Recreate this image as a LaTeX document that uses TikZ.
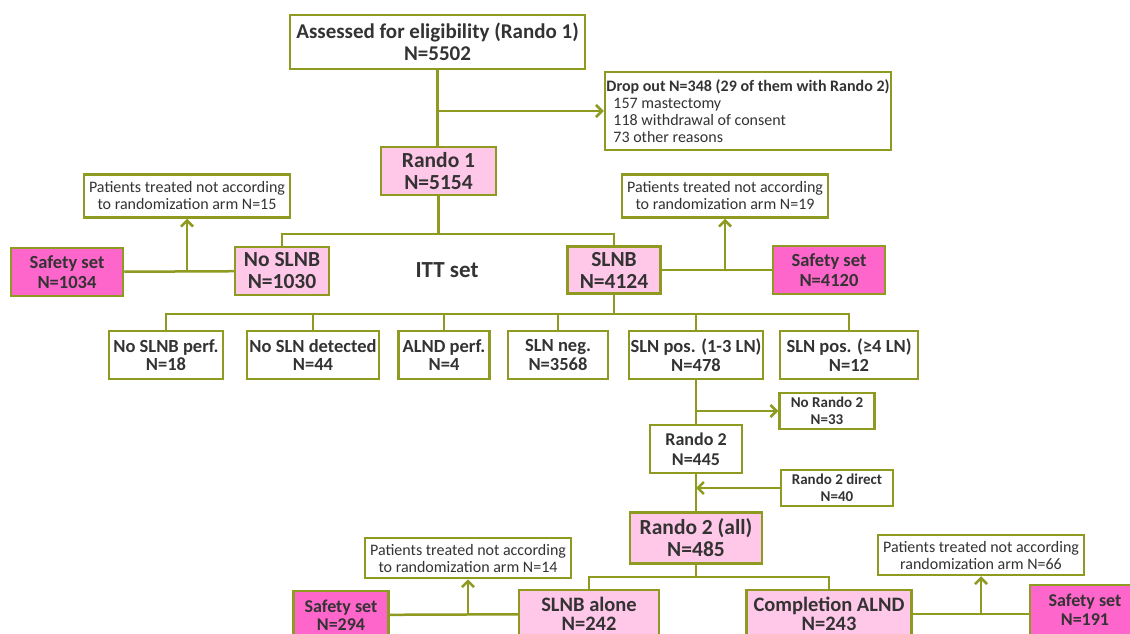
\documentclass[tikz,border=0pt]{standalone}
\usepackage{fontspec}
\setmainfont{Carlito}
\usetikzlibrary{arrows.meta, positioning, calc}
\definecolor{olivebox}{RGB}{142,155,32}
\definecolor{lightpink}{RGB}{255,199,232}
\definecolor{hotpink}{RGB}{255,102,204}
\definecolor{inkgrey}{RGB}{51,51,51}
\tikzset{
  box/.style={rectangle, draw=olivebox, line width=2.5pt, fill=white, inner sep=0pt,
              align=center, text=inkgrey, font=\bfseries\fontsize{21.5}{22}\selectfont},
  armbox/.style={box, fill=lightpink},
  safebox/.style={box, fill=hotpink, font=\bfseries\fontsize{18.5}{20}\selectfont},
  notebox/.style={box, font=\fontsize{16}{17}\selectfont},
  rowbox/.style={box, minimum height=48pt, font=\bfseries\fontsize{18.5}{18.5}\selectfont},
  smallbox/.style={box, font=\bfseries\fontsize{15}{17}\selectfont},
  link/.style={draw=olivebox, line width=2.5pt},
  arrow/.style={link, -{Straight Barb[length=6pt,width=12pt]}}
}

\begin{document}
\begin{tikzpicture}[x=1pt, y=-1pt]
    \useasboundingbox[fill=white] (0,0) rectangle (1130,634);

    % Rando 1
    \node[box, minimum width=295pt, minimum height=54pt, font=\bfseries\fontsize{21}{22}\selectfont]
        (assessed) at (437.5,42) {Assessed for eligibility (Rando 1)\\N=5502};
    \node[box, minimum width=286pt, minimum height=78pt, align=left,
          font=\fontsize{16}{17}\selectfont] (dropout) at (748,111)
        {\textbf{Drop out N=348 (29 of them with Rando 2)}\\
         \hspace*{7pt}157 mastectomy\\
         \hspace*{7pt}118 withdrawal of consent\\
         \hspace*{7pt}73 other reasons};
    \node[armbox, minimum width=115pt, minimum height=48pt] (rando1) at (438.5,171)
        {Rando 1\\N=5154};

    \node[notebox, minimum width=206pt, minimum height=43pt] (note15) at (187,196)
        {Patients treated not according\\to randomization arm N=15};
    \node[safebox, minimum width=112pt, minimum height=48pt] (safe1034) at (67,272)
        {Safety set\\N=1034};
    \node[armbox, minimum width=94pt, minimum height=48pt] (noslnb) at (282,271)
        {No SLNB\\N=1030};
    \node[text=inkgrey, font=\bfseries\fontsize{23}{23}\selectfont] (itt) at (447,270) {ITT set};
    \node[armbox, minimum width=93pt, minimum height=47pt] (slnb) at (614,270)
        {SLNB\\N=4124};
    \node[notebox, minimum width=206pt, minimum height=43pt] (note19) at (725,196)
        {Patients treated not according\\to randomization arm N=19};
    \node[safebox, minimum width=112pt, minimum height=48pt] (safe4120) at (829,270)
        {Safety set\\N=4120};

    % SLNB outcomes
    \node[rowbox, minimum width=114pt] (noperf) at (166,355) {No SLNB perf.\\N=18};
    \node[rowbox, minimum width=132pt] (nodetect) at (313,355) {No SLN detected\\N=44};
    \node[rowbox, minimum width=91pt] (alnd) at (444,355) {ALND perf.\\N=4};
    \node[rowbox, minimum width=100pt] (slnneg) at (558,355) {SLN neg.\\N=3568};
    \node[rowbox, minimum width=134pt] (slnpos13) at (696,355) {SLN pos. (1-3 LN)\\N=478};
    \node[rowbox, minimum width=138pt] (slnpos4) at (849,355) {SLN pos. (≥4 LN)\\N=12};

    % Rando 2
    \node[smallbox, minimum width=95pt, minimum height=36pt] (norando2) at (827,411)
        {No Rando 2\\N=33};
    \node[box, minimum width=92pt, minimum height=48pt, font=\bfseries\fontsize{18}{20}\selectfont]
        (rando2) at (696,449) {Rando 2\\N=445};
    \node[smallbox, minimum width=112pt, minimum height=36pt] (rando2direct) at (837,488)
        {Rando 2 direct\\N=40};
    \node[armbox, minimum width=132pt, minimum height=51pt] (rando2all) at (696,538)
        {Rando 2 (all)\\N=485};

    \node[notebox, minimum width=206pt, minimum height=40pt] (note14) at (468,558)
        {Patients treated not according\\to randomization arm N=14};
    \node[safebox, minimum width=95pt, minimum height=48pt, font=\bfseries\fontsize{18}{18}\selectfont]
        (safe294) at (341,615) {Safety set\\N=294};
    \node[armbox, minimum width=140pt, minimum height=48pt, font=\bfseries\fontsize{20.5}{18.5}\selectfont]
        (slnbalone) at (589,614) {SLNB alone\\N=242};
    \node[armbox, minimum width=165pt, minimum height=48pt, font=\bfseries\fontsize{20.5}{18.5}\selectfont]
        (complalnd) at (829,614) {Completion ALND\\N=243};
    \node[notebox, minimum width=206pt, minimum height=40pt] (note66) at (981,555)
        {Patients treated not according\\randomization arm N=66};
    \node[safebox, minimum width=110pt, minimum height=50pt, font=\bfseries\fontsize{18}{19}\selectfont]
        (safe191) at (1085,610) {Safety set\\N=191};

    \coordinate (split1) at (438.5,234);
    \coordinate (split2) at (614,314);
    \coordinate (split3) at (696,577);

    \draw[link] (assessed.south) -- (assessed.south |- rando1.north);
    \draw[arrow] (assessed.south |- dropout.west) -- (dropout.west);
    \draw[link] (rando1) -- (split1);
    \draw[link] (noslnb.north) |- (split1) -| (slnb.north);
    \draw[link] (safe1034) -- (noslnb);
    \draw[arrow] (safe1034.east -| note15.south) -- (note15.south);
    \draw[link] (slnb) -- (safe4120);
    \draw[arrow] (slnb.east -| note19.south) -- (note19.south);

    \draw[link] (slnb) -- (split2);
    \draw[link] (noperf.north) |- (split2) -| (slnpos4.north);
    \foreach \n in {nodetect, alnd, slnneg, slnpos13}
        \draw[link] (\n.north) -- (\n.north |- split2);

    \draw[link] (slnpos13) -- (rando2);
    \draw[arrow] (slnpos13.south |- norando2.west) -- (norando2.west);
    \draw[link] (rando2) -- (rando2all);
    \draw[arrow] (rando2direct.west) -- (rando2direct.west -| rando2.south);

    \draw[link] (rando2all) -- (split3);
    \draw[link] (slnbalone.north) |- (split3) -| (complalnd.north);
    \draw[link] (safe294) -- (slnbalone);
    \draw[arrow] (safe294.east -| note14.south) -- (note14.south);
    \draw[link] (complalnd.east) -- (complalnd.east -| safe191.west);
    \draw[arrow] (complalnd.east -| note66.south) -- (note66.south);
\end{tikzpicture}
\end{document}
